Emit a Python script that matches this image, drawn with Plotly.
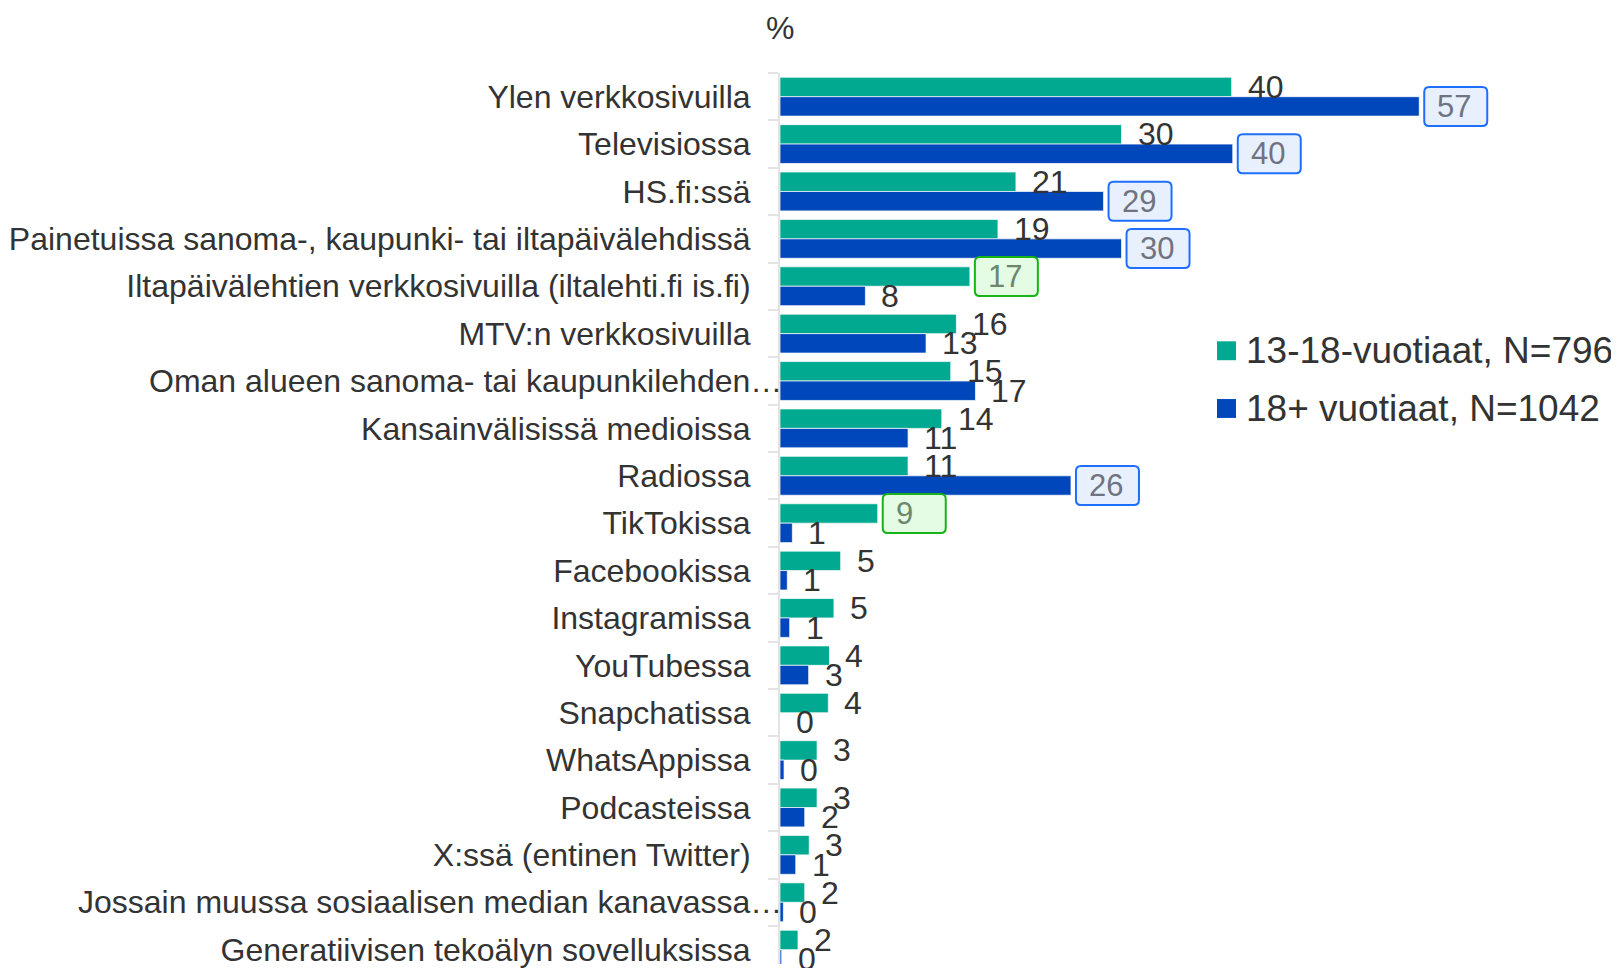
import plotly.graph_objects as go

categories = [
    "Ylen verkkosivuilla",
    "Televisiossa",
    "HS.fi:ssä",
    "Painetuissa sanoma-, kaupunki- tai iltapäivälehdissä",
    "Iltapäivälehtien verkkosivuilla (iltalehti.fi is.fi)",
    "MTV:n verkkosivuilla",
    "Oman alueen sanoma- tai kaupunkilehden…",
    "Kansainvälisissä medioissa",
    "Radiossa",
    "TikTokissa",
    "Facebookissa",
    "Instagramissa",
    "YouTubessa",
    "Snapchatissa",
    "WhatsAppissa",
    "Podcasteissa",
    "X:ssä (entinen Twitter)",
    "Jossain muussa sosiaalisen median kanavassa…",
    "Generatiivisen tekoälyn sovelluksissa",
]
young = [40.2, 30.4, 21.0, 19.4, 16.9, 15.7, 15.2, 14.4, 11.4, 8.7,
         5.4, 4.8, 4.4, 4.3, 3.3, 3.3, 2.6, 2.2, 1.6]
adult = [56.9, 40.3, 28.8, 30.4, 7.6, 13.0, 17.4, 11.4, 25.9, 1.1,
         0.65, 0.86, 2.55, 0.0, 0.36, 2.2, 1.4, 0.3, 0.15]
young_sig = [False, False, False, False, True, False, False, False, False, True,
             False, False, False, False, False, False, False, False, False]
adult_sig = [True, True, True, True, False, False, False, False, True, False,
             False, False, False, False, False, False, False, False, False]
series_names = ["13-18-vuotiaat, N=796", "18+ vuotiaat, N=1042"]
axis_title = "%"

GREEN = "#00a98f"
BLUE = "#0047bb"
FONT = "Arial, Liberation Sans, sans-serif"
TXT = "#333333"

# page body has an 8px margin, so the figure is drawn 8px in from the corner
W, H = 1611, 960
ML, MR, MT, MB = 772, 120, 65, 0
PW = W - ML - MR
PH = H - MT - MB
BAND = 47.6
y_lo = -0.5
y_hi = y_lo + PH / BAND

fig = go.Figure()
fig.add_trace(go.Bar(y=categories, x=young, orientation="h", name=series_names[0],
                     marker=dict(color=GREEN, line=dict(color="rgba(255,255,255,0.7)", width=1)),
                     showlegend=False, hoverinfo="x+y"))
fig.add_trace(go.Bar(y=categories, x=adult, orientation="h", name=series_names[1],
                     marker=dict(color=BLUE, line=dict(color="rgba(255,255,255,0.7)", width=1)),
                     showlegend=False, hoverinfo="x+y"))

bargap = 0.18
off = (1 - bargap) / 4  # centre offset of each bar in the group

def rrect(x0, x1, y0, y1, r):
    return (f"M {x0+r},{y0} L {x1-r},{y0} Q {x1},{y0} {x1},{y0+r} "
            f"L {x1},{y1-r} Q {x1},{y1} {x1-r},{y1} L {x0+r},{y1} "
            f"Q {x0},{y1} {x0},{y1-r} L {x0},{y0+r} Q {x0},{y0} {x0+r},{y0} Z")

annotations = []
shapes = []
styles = [
    dict(fill="#e4fce4", border="#17b317", text="#6d876d"),
    dict(fill="#e9f0fd", border="#1f6fff", text="#6e7480"),
]
for s, (vals, sig) in enumerate([(young, young_sig), (adult, adult_sig)]):
    dy = -off if s == 0 else off
    for i, v in enumerate(vals):
        lab = str(int(v + 0.5))
        yc = i + dy
        if sig[i]:
            st = styles[s]
            shapes.append(dict(type="path", xref="x", yref="y",
                               xsizemode="pixel", ysizemode="pixel",
                               xanchor=v, yanchor=yc,
                               path=rrect(5, 68, -19.5, 19.5, 5),
                               fillcolor=st["fill"], line=dict(color=st["border"], width=2),
                               layer="above"))
            annotations.append(dict(x=v, y=yc, xref="x", yref="y", text=lab,
                                    showarrow=False, xanchor="left", yanchor="middle",
                                    xshift=16, font=dict(family=FONT, size=31, color=st["text"])))
        else:
            annotations.append(dict(x=v, y=yc, xref="x", yref="y", text=lab,
                                    showarrow=False, xanchor="left", yanchor="middle",
                                    xshift=14, font=dict(family=FONT, size=32, color=TXT)))

# category labels: truncated (ellipsis) labels overhang toward the axis line
ticktext = []
for i, c in enumerate(categories):
    if c.endswith("…"):
        ticktext.append("")
        annotations.append(dict(x=0, y=i, xref="paper", yref="y", text=c,
                                showarrow=False, xanchor="right", yanchor="middle",
                                xshift=4, font=dict(family=FONT, size=32, color=TXT)))
    else:
        ticktext.append(c)

# axis title "%"
annotations.append(dict(x=0, y=1, xref="paper", yref="paper", text=axis_title,
                        showarrow=False, xanchor="center", yanchor="middle",
                        yshift=(MT - 20), font=dict(family=FONT, size=32, color=TXT)))

# custom legend
def px2x(px):
    return (px - ML) / PW

def py2y(py):
    return 1 - (py - MT) / PH

leg_x = 1209
leg_rows = [344, 402]
for k, (nm, col) in enumerate(zip(series_names, [GREEN, BLUE])):
    cy = leg_rows[k]
    shapes.append(dict(type="rect", xref="paper", yref="paper",
                       x0=px2x(leg_x), x1=px2x(leg_x + 19),
                       y0=py2y(cy + 9.5), y1=py2y(cy - 9.5),
                       fillcolor=col, line=dict(width=0)))
    annotations.append(dict(x=px2x(leg_x + 27), y=py2y(cy), xref="paper", yref="paper",
                            text=nm, showarrow=False, xanchor="left", yanchor="middle",
                            font=dict(family=FONT, size=37, color=TXT)))

fig.update_layout(
    width=W, height=H, autosize=False,
    margin=dict(l=ML, r=MR, t=MT, b=MB, pad=0),
    paper_bgcolor="white", plot_bgcolor="white",
    barmode="group", bargap=bargap, bargroupgap=0,
    showlegend=False,
    font=dict(family=FONT, size=32, color=TXT),
    xaxis=dict(range=[0, 64], visible=False, showgrid=False, zeroline=False, fixedrange=True),
    yaxis=dict(type="category", categoryorder="array", categoryarray=categories,
               tickmode="array", tickvals=categories, ticktext=ticktext,
               range=[y_hi, y_lo], showgrid=False, zeroline=False,
               showline=True, linecolor="#e3e3e3", linewidth=2,
               ticks="outside", tickson="boundaries", ticklen=10, tickcolor="#e3e3e3", tickwidth=2,
               ticklabelstandoff=21,
               tickfont=dict(family=FONT, size=32, color=TXT), fixedrange=True),
    annotations=annotations,
    shapes=shapes,
)

fig.write_html("out.html")
